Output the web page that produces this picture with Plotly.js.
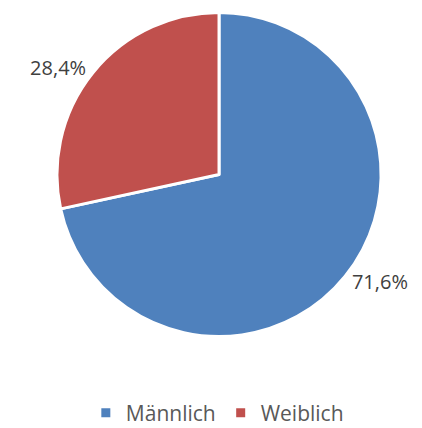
<!DOCTYPE html>
<html><head><meta charset="utf-8">
<script src="https://cdn.plot.ly/plotly-3.0.1.min.js"></script>
<style>html,body{margin:0;padding:0;background:#fff}</style>
</head><body><div id="chart" style="width:422px;height:428px"></div>
<script>
const categories = ["Männlich", "Weiblich"];
const values = [71.6, 28.4];
const colors = ["#4F81BD", "#C0504D"];

Plotly.newPlot("chart", [{
  type: "pie",
  labels: categories,
  values: values,
  sort: false,
  direction: "clockwise",
  rotation: 0,
  marker: {colors: colors, line: {color: "#ffffff", width: 3}},
  textinfo: "percent",
  texttemplate: "%{percent:.1%}",
  textposition: "outside",
  outsidetextfont: {family: "Open Sans", size: 20, color: "#404040"},
  hoverinfo: "none",
  domain: {x: [0.135, 0.903], y: [0.2126, 0.972]}
}], {
  width: 422, height: 428,
  margin: {l: 0, r: 0, t: 0, b: 0, autoexpand: false},
  separators: ",.",
  paper_bgcolor: "#fff",
  showlegend: true,
  legend: {orientation: "h", x: 0.515, xanchor: "center", y: 0.035, yanchor: "middle",
           font: {family: "Open Sans", size: 21, color: "#595959"}, itemwidth: 30, tracegroupgap: 0}
}, {displayModeBar: false, staticPlot: true});
</script></body></html>
